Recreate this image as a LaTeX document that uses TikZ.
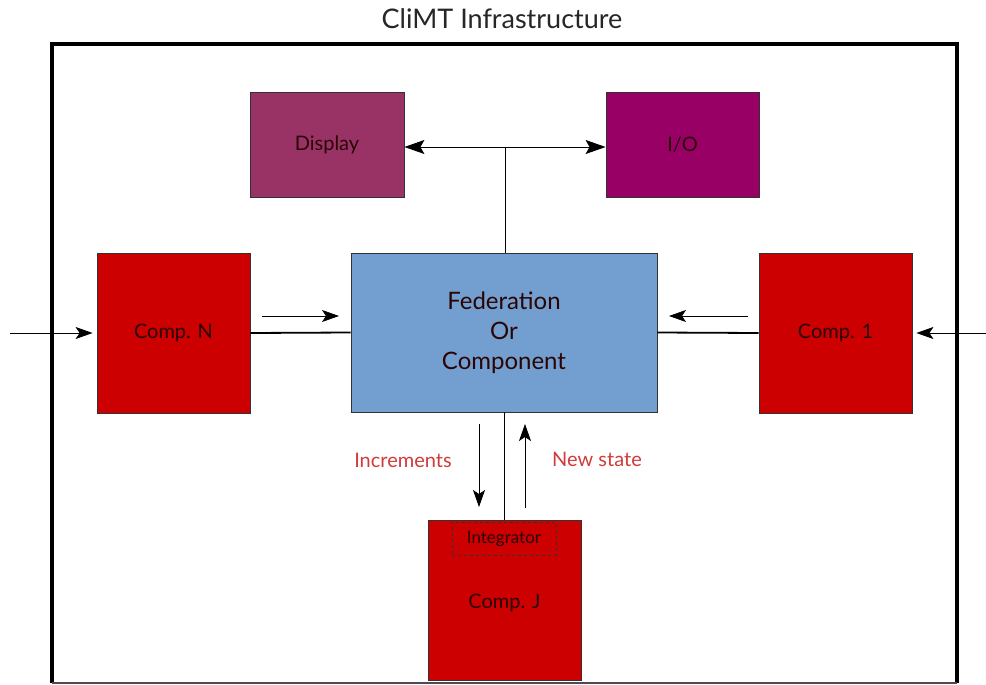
\documentclass[tikz,border=0pt]{standalone}
\usepackage{fontspec}
\setmainfont{Lato}
\usetikzlibrary{arrows.meta}
\definecolor{mauve}{HTML}{993366}
\definecolor{plum}{HTML}{990066}
\definecolor{compred}{HTML}{CC0000}
\definecolor{fedblue}{HTML}{729FCF}
\definecolor{labred}{HTML}{D03A3A}
\definecolor{boxtext}{HTML}{2A0505}
\begin{document}
\begin{tikzpicture}[x=1pt,y=-1pt,
  blk/.style={draw=black!80,line width=0.8pt,text=boxtext,font=\fontsize{20}{24}\selectfont,inner sep=0pt},
  thinarrow/.style={line width=0.8pt,-{Stealth[length=17pt,width=12pt,inset=4pt]}},
  link/.style={line width=1.8pt},
  lab/.style={text=labred,font=\fontsize{20}{24}\selectfont}]
\useasboundingbox (0,0) rectangle (986,685);
% frame
\draw[line width=3.5pt] (52,683) -- (52,44) -- (957,44) -- (957,683);
\draw[line width=1.5pt,black!70] (52,683) -- (957,683);
\node[font=\fontsize{27}{30}\selectfont,text=black!85] (title) at (502,19) {CliMT Infrastructure};
% boxes
\node[blk,fill=mauve,minimum width=154pt,minimum height=105pt] (disp) at (327,144.5) {Display};
\node[blk,fill=plum,minimum width=153pt,minimum height=105pt] (io) at (682.5,144.5) {I/O};
\node[blk,fill=compred,minimum width=153pt,minimum height=160pt] (cn) at (173.5,333) {Comp. N};
\node[blk,fill=fedblue,minimum width=306pt,minimum height=159pt,align=center,font=\fontsize{24}{30}\selectfont] (fed) at (504,332.5) {Federation\\Or\\Component};
\node[blk,fill=compred,minimum width=153pt,minimum height=160pt] (c1) at (835.5,333) {Comp. 1};
\node[blk,fill=compred,minimum width=153pt,minimum height=160pt] (cj) at (504.5,600) {};
\node[text=boxtext,font=\fontsize{20}{24}\selectfont] (cjl) at (504.5,603) {Comp. J};
\node[draw=black!80,dashed,line width=0.6pt,minimum width=104pt,minimum height=33pt,inner sep=0pt,text=boxtext,font=\fontsize{17}{20}\selectfont] (integ) at (504,538.5) {Integrator};
% top connector
\coordinate (tj) at (505,147);
\draw[line width=0.8pt] (fed.north -| tj) -- (tj);
\draw[line width=0.8pt,{Stealth[length=20pt,width=14pt,inset=4pt]}-{Stealth[length=20pt,width=14pt,inset=4pt]}] (disp.east |- tj) -- (io.west |- tj);
% side connectors
\draw[link] (cn.east) -- (fed.west);
\draw[link] (c1.west) -- (fed.east);
\coordinate (a1) at (262,316); \coordinate (a2) at (339,316);
\draw[thinarrow] (a1) -- (a2);
\coordinate (b1) at (748,316); \coordinate (b2) at (669,316);
\draw[thinarrow] (b1) -- (b2);
\coordinate (lin) at (10,333);
\draw[thinarrow,shorten >=4pt] (lin) -- (cn.west);
\coordinate (rin) at (986,333);
\draw[thinarrow,shorten >=4pt] (rin) -- (c1.east);
% vertical to Comp J
\draw[link] (fed.south -| cj.north) -- (cj.north);
\coordinate (d1) at (479,424); \coordinate (d2) at (479,507);
\draw[thinarrow] (d1) -- (d2);
\coordinate (u1) at (525,508); \coordinate (u2) at (525,424);
\draw[thinarrow] (u1) -- (u2);
\node[lab] (inc) at (403,460) {Increments};
\node[lab] (ns) at (597,459) {New state};
\end{tikzpicture}
\end{document}
